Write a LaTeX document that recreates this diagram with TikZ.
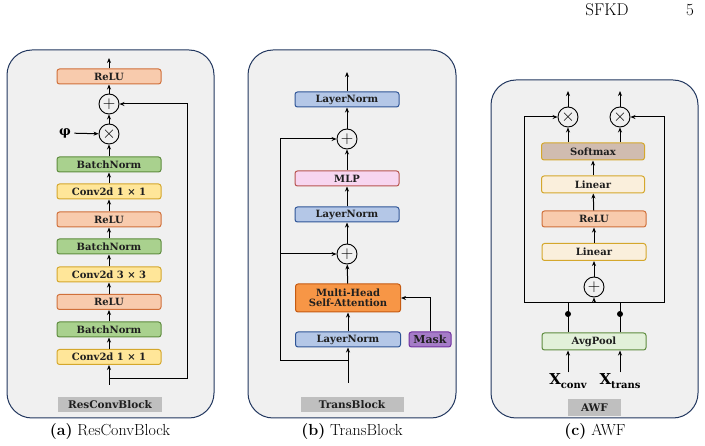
\documentclass[tikz,border=0pt]{standalone}
\usepackage{fontspec}
\usepackage{tikz}
\usetikzlibrary{arrows.meta,backgrounds}
\newfontfamily\blockfont{DejaVu Serif}
\definecolor{PanelFill}{HTML}{F0F0F0}
\definecolor{PanelDraw}{HTML}{22375F}
\definecolor{ReluFill}{HTML}{F8CBAD}
\definecolor{ReluDraw}{HTML}{D0703A}
\definecolor{BnFill}{HTML}{A9D18E}
\definecolor{BnDraw}{HTML}{5E8C3E}
\definecolor{ConvFill}{HTML}{FFE699}
\definecolor{ConvDraw}{HTML}{D4A72C}
\definecolor{LnFill}{HTML}{B4C7E7}
\definecolor{LnDraw}{HTML}{2F5597}
\definecolor{MlpFill}{HTML}{F7D6F0}
\definecolor{MlpDraw}{HTML}{B85450}
\definecolor{AttnFill}{HTML}{F79646}
\definecolor{AttnDraw}{HTML}{C55A11}
\definecolor{MaskFill}{HTML}{A57CC7}
\definecolor{MaskDraw}{HTML}{7030A0}
\definecolor{SoftFill}{HTML}{D0BCB0}
\definecolor{LinFill}{HTML}{FAEFDC}
\definecolor{PoolFill}{HTML}{E2F0D9}
\definecolor{TagFill}{HTML}{BFBFBF}

\begin{document}
\begin{tikzpicture}[x=1pt,y=-1pt,>={Stealth[length=5pt,width=4pt]},
  blockbox/.style={rectangle,rounded corners=2.5pt,line width=1pt,minimum width=104pt,minimum height=15pt,inner sep=0pt,text=black!88,font=\blockfont\bfseries\fontsize{10}{11}\selectfont,align=center},
  opnode/.style={circle,draw=black,line width=0.9pt,fill=PanelFill,minimum size=20pt,inner sep=0pt,font=\fontsize{17}{17}\selectfont},
  panel/.style={rectangle,rounded corners=25pt,fill=PanelFill,draw=PanelDraw,line width=1pt,inner sep=0pt},
  tagbox/.style={rectangle,fill=TagFill,minimum height=15pt,inner sep=0pt,text=black!88,font=\blockfont\bfseries\fontsize{10.5}{12}\selectfont},
  capt/.style={font=\fontsize{16}{18}\selectfont},
  flow/.style={->,line width=1pt},
  wire/.style={line width=1pt}]
\useasboundingbox (0,0) rectangle (705,446);
% page header
\node[font=\fontsize{17}{20}\selectfont] (head) at (607,10) {SFKD};
\node[font=\fontsize{17}{20}\selectfont] (page) at (690,10) {5};

% (a) ResConvBlock
\node[panel,minimum width=207pt,minimum height=368pt] (panelA) at (110.5,234) {};
\node[blockbox,fill=ReluFill,draw=ReluDraw] (reluA3) at (109,76.5) {ReLU};
\node[opnode] (addA) at (109,104) {$+$};
\node[opnode] (mulA) at (109,134) {$\times$};
\node[font=\blockfont\bfseries\fontsize{13}{13}\selectfont] (phi) at (65,133) {φ};
\node[blockbox,fill=BnFill,draw=BnDraw] (bnA3) at (109,164.5) {BatchNorm};
\node[blockbox,fill=ConvFill,draw=ConvDraw] (convA3) at (109,191.5) {Conv2d 1 × 1};
\node[blockbox,fill=ReluFill,draw=ReluDraw] (reluA2) at (109,219.5) {ReLU};
\node[blockbox,fill=BnFill,draw=BnDraw] (bnA2) at (109,246.5) {BatchNorm};
\node[blockbox,fill=ConvFill,draw=ConvDraw] (convA2) at (109,274.5) {Conv2d 3 × 3};
\node[blockbox,fill=ReluFill,draw=ReluDraw] (reluA1) at (109,302) {ReLU};
\node[blockbox,fill=BnFill,draw=BnDraw] (bnA1) at (109,329.5) {BatchNorm};
\node[blockbox,fill=ConvFill,draw=ConvDraw] (convA1) at (109,357) {Conv2d 1 × 1};
\coordinate (inA) at (109,385);
\coordinate (forkA) at (109,379);
\coordinate (outA) at (109,58);
\node[tagbox,minimum width=104pt] (tagA) at (110,404.5) {ResConvBlock};
\node[capt] (captA) at (110,432) {\textbf{(a)}\ ResConvBlock};
\draw[flow] (inA) -- (convA1);
\draw[flow] (convA1) -- (bnA1);
\draw[flow] (bnA1) -- (reluA1);
\draw[flow] (reluA1) -- (convA2);
\draw[flow] (convA2) -- (bnA2);
\draw[flow] (bnA2) -- (reluA2);
\draw[flow] (reluA2) -- (convA3);
\draw[flow] (convA3) -- (bnA3);
\draw[flow] (bnA3) -- (mulA);
\draw[flow] (phi) -- (mulA);
\draw[flow] (mulA) -- (addA);
\draw[flow] (addA) -- (reluA3);
\draw[flow] (reluA3) -- (outA);
\draw[flow] (forkA) -- (187,379) -- (187,104) -- (addA);

% (b) TransBlock
\node[panel,minimum width=208pt,minimum height=368pt] (panelB) at (352,234) {};
\node[blockbox,fill=LnFill,draw=LnDraw] (lnB3) at (347,99.5) {LayerNorm};
\node[opnode] (addB2) at (347,139) {$+$};
\node[blockbox,fill=MlpFill,draw=MlpDraw] (mlpB) at (347,178.5) {MLP};
\node[blockbox,fill=LnFill,draw=LnDraw] (lnB2) at (347,214.5) {LayerNorm};
\node[opnode] (addB1) at (347,254) {$+$};
\node[blockbox,fill=AttnFill,draw=AttnDraw,minimum width=105pt,minimum height=28pt] (attnB) at (348,298) {Multi-Head\\[-1pt]Self-Attention};
\node[blockbox,fill=LnFill,draw=LnDraw,minimum width=105pt] (lnB1) at (348,339.5) {LayerNorm};
\node[blockbox,fill=MaskFill,draw=MaskDraw,minimum width=42pt,font=\blockfont\bfseries\fontsize{11}{12}\selectfont] (maskB) at (430,339.5) {Mask};
\coordinate (inB) at (348,383);
\coordinate (forkB) at (348,361);
\coordinate (outB) at (347,72);
\node[tagbox,minimum width=103pt] (tagB) at (352,405) {TransBlock};
\node[capt] (captB) at (352,432) {\textbf{(b)}\ TransBlock};
\draw[flow] (inB) -- (lnB1);
\draw[flow] (lnB1) -- (attnB);
\draw[flow] (attnB) -- (addB1);
\draw[flow] (addB1) -- (lnB2);
\draw[flow] (lnB2) -- (mlpB);
\draw[flow] (mlpB) -- (addB2);
\draw[flow] (addB2) -- (lnB3);
\draw[flow] (lnB3) -- (outB);
\draw[flow] (forkB) -- (280,361) -- (280,139) -- (addB2);
\draw[flow] (280,254) -- (addB1);
\draw[flow] (maskB.north) -- (maskB.north |- attnB.east) -- (attnB.east);

% (c) AWF
\node[panel,minimum width=207pt,minimum height=338pt] (panelC) at (594.5,249) {};
\node[opnode] (mulC1) at (568,117) {$\times$};
\node[opnode] (mulC2) at (620,117) {$\times$};
\node[blockbox,fill=SoftFill,draw=ConvDraw,minimum height=17pt,minimum width=103pt] (softC) at (593,151.5) {Softmax};
\node[blockbox,fill=LinFill,draw=ConvDraw,minimum height=17pt,minimum width=103pt] (linC2) at (593,184.5) {Linear};
\node[blockbox,fill=ReluFill,draw=ReluDraw,minimum height=16pt] (reluC) at (594,219) {ReLU};
\node[blockbox,fill=LinFill,draw=ConvDraw,minimum height=17pt] (linC1) at (594,252) {Linear};
\node[opnode] (addC) at (594,287) {$+$};
\node[blockbox,fill=PoolFill,draw=BnDraw,minimum height=17pt] (poolC) at (594,341.5) {AvgPool};
\node[font=\blockfont\bfseries\fontsize{15}{15}\selectfont,inner sep=1pt] (xconv) at (568,381) {X\raisebox{-4pt}{\fontsize{10}{10}\selectfont conv}};
\node[font=\blockfont\bfseries\fontsize{15}{15}\selectfont,inner sep=1pt] (xtrans) at (620,381) {X\raisebox{-4pt}{\fontsize{10}{10}\selectfont trans}};
\coordinate (outC1) at (568,91);
\coordinate (outC2) at (620,91);
\coordinate (joinL) at (524,303);
\coordinate (joinR) at (664,303);
\node[tagbox,minimum width=53pt,minimum height=17pt] (tagC) at (594.5,407.5) {AWF};
\node[capt] (captC) at (595,432) {\textbf{(c)}\ AWF};
\draw[flow] (xconv.north -| mulC1) -- (mulC1 |- poolC.south);
\draw[flow] (xtrans.north -| mulC2) -- (mulC2 |- poolC.south);
\draw[wire] (mulC1 |- poolC.north) -- (mulC1 |- joinL);
\draw[wire] (mulC2 |- poolC.north) -- (mulC2 |- joinR);
\fill (568,314) circle (3pt) (620,314) circle (3pt);
\draw[wire] (joinL) -- (joinR);
\draw[flow] (addC |- joinL) -- (addC);
\draw[flow] (addC) -- (linC1);
\draw[flow] (linC1) -- (reluC);
\draw[flow] (reluC) -- (linC2);
\draw[flow] (linC2) -- (softC);
\draw[flow] (mulC1 |- softC.north) -- (mulC1);
\draw[flow] (mulC2 |- softC.north) -- (mulC2);
\draw[flow] (joinL) -- (524,117) -- (mulC1);
\draw[flow] (joinR) -- (664,117) -- (mulC2);
\draw[flow] (mulC1) -- (outC1);
\draw[flow] (mulC2) -- (outC2);
\end{tikzpicture}
\end{document}
